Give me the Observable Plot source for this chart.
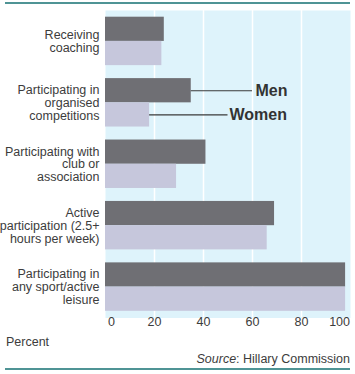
<!DOCTYPE html>
<html>
<head>
<meta charset="utf-8">
<script src="https://cdn.jsdelivr.net/npm/d3@7"></script>
<script src="https://cdn.jsdelivr.net/npm/@observablehq/plot@0.6"></script>
<style>
  html, body { margin: 0; padding: 0; background: #ffffff; }
  #wrap { position: relative; width: 355px; height: 374px; overflow: hidden; font-family: "Liberation Sans", Arial, sans-serif; color: #3c3c3c; }
  #chart { position: absolute; left: 0; top: 0; }
  .rule { position: absolute; left: 5px; width: 345px; height: 2px; background: #4f9495; }
  #percent { position: absolute; left: 6px; top: 335px; font-size: 12.5px; }
  #source { position: absolute; right: 5px; top: 352px; font-size: 12.5px; }
</style>
</head>
<body>
<div id="wrap">
  <div class="rule" style="top:2px"></div>
  <div id="chart"></div>
  <div id="percent">Percent</div>
  <div id="source"><i>Source</i>: Hillary Commission</div>
  <div class="rule" style="top:368px"></div>
</div>
<script>
const categories = ["coaching", "competitions", "club", "active", "any"];
const categoryLabels = [
  "Receiving\ncoaching",
  "Participating in\norganised\ncompetitions",
  "Participating with\nclub or\nassociation",
  "Active\nparticipation (2.5+\nhours per week)",
  "Participating in\nany sport/active\nleisure"
];
const men = [24, 35, 41, 69, 98];
const women = [23, 18, 29, 66, 98];
const xTicks = [0, 20, 40, 60, 80, 100];
const gridTicks = [20, 40, 60, 80];
const annotations = [
  {series: "Men", category: "competitions", value: 35, lineEnd: 60},
  {series: "Women", category: "competitions", value: 18, lineEnd: 50}
];

const menData = categories.map((c, i) => ({category: c, value: men[i]}));
const womenData = categories.map((c, i) => ({category: c, value: women[i]}));
const labelData = categories.map((c, i) => ({category: c, label: categoryLabels[i]}));

const half = 24.2;
const chart = Plot.plot({
  width: 355,
  height: 336,
  marginLeft: 105,
  marginRight: 5,
  marginTop: 10,
  marginBottom: 18.5,
  style: {fontFamily: "Liberation Sans, Arial, sans-serif", background: "transparent"},
  x: {domain: [0, 100], axis: null},
  y: {type: "band", domain: categories, paddingInner: 0.2114, paddingOuter: 0.109, round: false, axis: null},
  marks: [
    Plot.frame({fill: "#def3fb", stroke: null}),
    Plot.ruleX(gridTicks, {stroke: "#ffffff", strokeWidth: 1.5}),
    Plot.barX(menData, {y: "category", x: "value", fill: "#6f6f74", insetBottom: half}),
    Plot.barX(womenData, {y: "category", x: "value", fill: "#c6c7dc", insetTop: half}),
    Plot.ruleY(annotations.filter(d => d.series === "Men"), {y: "category", x1: "value", x2: "lineEnd", dy: -12.1, stroke: "#3a3a3a", strokeWidth: 1.2}),
    Plot.ruleY(annotations.filter(d => d.series === "Women"), {y: "category", x1: "value", x2: "lineEnd", dy: 12.1, stroke: "#3a3a3a", strokeWidth: 1.2}),
    Plot.text(annotations.filter(d => d.series === "Men"), {y: "category", x: "lineEnd", text: "series", dy: -12.1, dx: 3, textAnchor: "start", fontSize: 16, fontWeight: "bold", fill: "#333333"}),
    Plot.text(annotations.filter(d => d.series === "Women"), {y: "category", x: "lineEnd", text: "series", dy: 12.1, dx: 1.5, textAnchor: "start", fontSize: 16, fontWeight: "bold", fill: "#333333"}),
    Plot.text(labelData, {y: "category", text: "label", frameAnchor: "left", textAnchor: "end", dx: -6, lineHeight: 1.03, fontSize: 12.5, fill: "#3c3c3c"}),
    Plot.text(xTicks.filter(d => d === 0), {x: d => d, text: d => String(d), frameAnchor: "bottom", dy: 8, dx: 2.5, textAnchor: "start", fontSize: 12.5, fill: "#3c3c3c"}),
    Plot.text(xTicks.filter(d => d > 0 && d < 100), {x: d => d, text: d => String(d), frameAnchor: "bottom", dy: 8, textAnchor: "middle", fontSize: 12.5, fill: "#3c3c3c"}),
    Plot.text(xTicks.filter(d => d === 100), {x: d => d, text: d => String(d), frameAnchor: "bottom", dy: 8, dx: -0.5, textAnchor: "end", fontSize: 12.5, fill: "#3c3c3c"})
  ]
});
document.getElementById("chart").appendChild(chart);
</script>
</body>
</html>
